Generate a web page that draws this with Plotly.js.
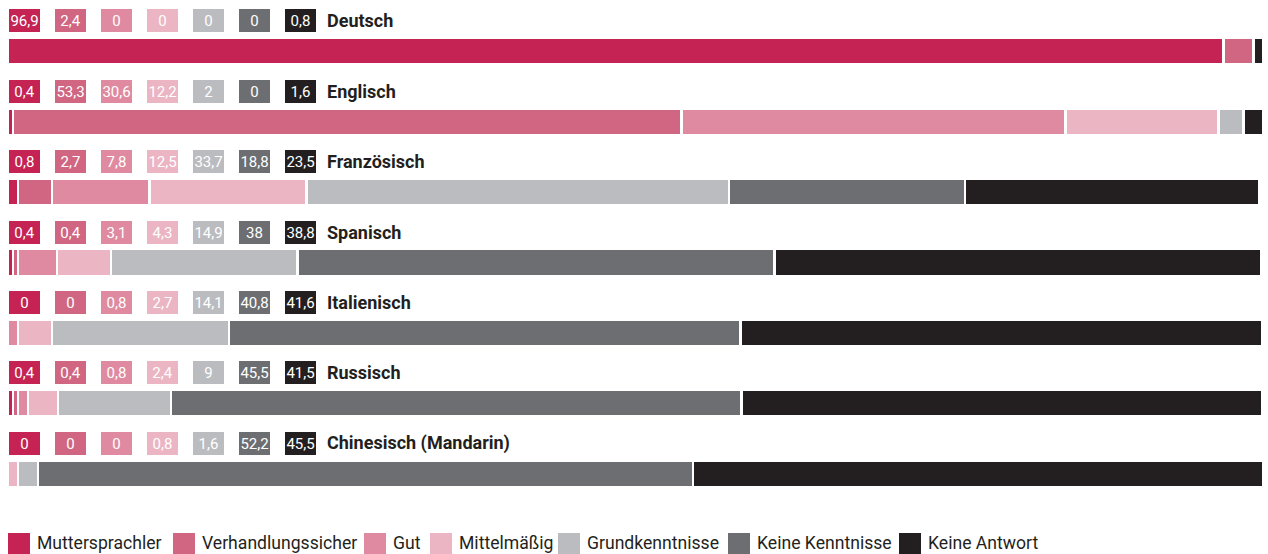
<!DOCTYPE html>
<html>
<head>
<meta charset="utf-8">
<script src="https://cdn.plot.ly/plotly-3.0.1.min.js"></script>
<style>
  html, body { margin: 0; padding: 0; background: #ffffff; }
  #chart { width: 1268px; height: 554px; }
</style>
</head>
<body>
<div id="chart"></div>
<script>
// ---- Data ----
const languages = ['Deutsch', 'Englisch', 'Französisch', 'Spanisch', 'Italienisch', 'Russisch', 'Chinesisch (Mandarin)'];
const seriesNames = ['Muttersprachler', 'Verhandlungssicher', 'Gut', 'Mittelmäßig', 'Grundkenntnisse', 'Keine Kenntnisse', 'Keine Antwort'];
const muttersprachler    = [96.9, 0.4, 0.8, 0.4, 0, 0.4, 0];
const verhandlungssicher = [2.4, 53.3, 2.7, 0.4, 0, 0.4, 0];
const gut                = [0, 30.6, 7.8, 3.1, 0.8, 0.8, 0];
const mittelmaessig      = [0, 12.2, 12.5, 4.3, 2.7, 2.4, 0.8];
const grundkenntnisse    = [0, 2, 33.7, 14.9, 14.1, 9, 1.6];
const keineKenntnisse    = [0, 0, 18.8, 38, 40.8, 45.5, 52.2];
const keineAntwort       = [0.8, 1.6, 23.5, 38.8, 41.6, 41.5, 45.5];
const seriesValues = [muttersprachler, verhandlungssicher, gut, mittelmaessig, grundkenntnisse, keineKenntnisse, keineAntwort];

// ---- Styles ----
const colors = ['#c42353', '#d06682', '#df8aa0', '#ebb5c4', '#bbbcc0', '#6d6e72', '#231f20'];
const FONT = 'Roboto, "Liberation Sans", Arial, sans-serif';
const fmt = v => String(v).replace('.', ',');

const traces = seriesValues.map((vals, k) => ({
  type: 'bar',
  orientation: 'h',
  name: seriesNames[k],
  x: vals,
  y: languages,
  marker: { color: colors[k], line: { color: '#ffffff', width: 2.5 } },
  showlegend: false,
  hovertemplate: '%{y}<br>' + seriesNames[k] + ': %{x}<extra></extra>'
}));

const annotations = [];
const shapes = [];
const BOX_STEP = 46;
languages.forEach((lang, i) => {
  seriesValues.forEach((vals, k) => {
    annotations.push({
      xref: 'paper', yref: 'y', x: 0, y: lang,
      xanchor: 'left', yanchor: 'middle',
      xshift: 1 + k * BOX_STEP, yshift: 30.5,
      text: fmt(vals[i]),
      showarrow: false,
      bgcolor: colors[k],
      width: 31, height: 23,
      borderpad: 0, borderwidth: 0,
      align: 'center', valign: 'middle',
      font: { family: FONT, size: 15, color: '#ffffff' }
    });
  });
  annotations.push({
    xref: 'paper', yref: 'y', x: 0, y: lang,
    xanchor: 'left', yanchor: 'middle',
    xshift: 317, yshift: 30.5,
    text: '<b>' + lang + '</b>',
    showarrow: false,
    font: { family: FONT, size: 18, color: '#231f20' }
  });
});

// legend (custom, large squares)
const legendX = [8, 173, 364, 430, 558, 728, 899];
seriesNames.forEach((nm, k) => {
  shapes.push({
    type: 'rect', xref: 'paper', yref: 'paper',
    xsizemode: 'pixel', ysizemode: 'pixel',
    xanchor: 0, yanchor: 0,
    x0: legendX[k] - 8, x1: legendX[k] - 8 + 22,
    y0: -45, y1: -24,
    fillcolor: colors[k], line: { width: 0 }
  });
  annotations.push({
    xref: 'paper', yref: 'paper', x: 0, y: 0,
    xanchor: 'left', yanchor: 'middle',
    xshift: legendX[k] - 8 + 27, yshift: -34,
    text: nm, showarrow: false,
    font: { family: FONT, size: 17.6, color: '#231f20' }
  });
});

const layout = {
  width: 1268, height: 554,
  margin: { l: 8, r: 2, t: 16, b: 45 },
  paper_bgcolor: '#ffffff', plot_bgcolor: '#ffffff',
  barmode: 'stack',
  bargap: 0.62,
  showlegend: false,
  xaxis: { range: [0, 100.3], autorange: false, showgrid: false, zeroline: false, showticklabels: false, showline: false, fixedrange: true },
  yaxis: { type: 'category', categoryorder: 'array', categoryarray: languages, range: [6.5, -0.5], autorange: false, showgrid: false, zeroline: false, showticklabels: false, showline: false, fixedrange: true },
  annotations: annotations,
  shapes: shapes,
  font: { family: FONT }
};

Plotly.newPlot('chart', traces, layout, { displayModeBar: false, staticPlot: true });
</script>
</body>
</html>
